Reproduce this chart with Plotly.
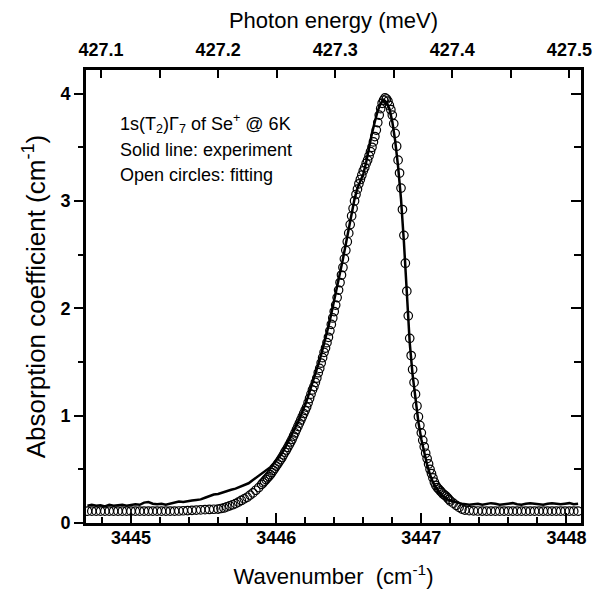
import plotly.graph_objects as go

# ---------------- data ----------------
# fitted curve (open circles)
wn_fit = [
    3444.70, 3444.73, 3444.76, 3444.79, 3444.82, 3444.85, 3444.88, 3444.91, 3444.94, 3444.97,
    3445.00, 3445.03, 3445.06, 3445.09, 3445.12, 3445.15, 3445.18, 3445.21, 3445.24, 3445.27,
    3445.30, 3445.33, 3445.36, 3445.39, 3445.42, 3445.45, 3445.48, 3445.51, 3445.54, 3445.57,
    3445.60, 3445.62, 3445.64, 3445.66, 3445.68, 3445.70, 3445.72, 3445.74, 3445.76, 3445.78,
    3445.80, 3445.82, 3445.84, 3445.86, 3445.88, 3445.90,
    3445.91, 3445.92, 3445.93, 3445.94, 3445.95, 3445.96, 3445.97, 3445.98, 3445.99,
    3446.00, 3446.01, 3446.02, 3446.03, 3446.04, 3446.05, 3446.06, 3446.07, 3446.08, 3446.09,
    3446.10, 3446.11, 3446.12, 3446.13, 3446.14, 3446.15, 3446.16, 3446.17, 3446.18, 3446.19,
    3446.20, 3446.21, 3446.22, 3446.23, 3446.24, 3446.25, 3446.26, 3446.27, 3446.28, 3446.29,
    3446.30, 3446.31, 3446.32, 3446.33, 3446.34, 3446.35, 3446.36, 3446.37, 3446.38, 3446.39,
    3446.40, 3446.41, 3446.42, 3446.43, 3446.44, 3446.45, 3446.46, 3446.47, 3446.48, 3446.49,
    3446.50, 3446.51, 3446.52, 3446.53, 3446.54, 3446.55, 3446.56, 3446.57, 3446.58, 3446.59,
    3446.60, 3446.61, 3446.62, 3446.63, 3446.64, 3446.65, 3446.66, 3446.67, 3446.68, 3446.69,
    3446.70, 3446.71, 3446.72, 3446.73, 3446.74, 3446.75, 3446.76, 3446.77, 3446.78, 3446.79,
    3446.80, 3446.81, 3446.82, 3446.83, 3446.84, 3446.85, 3446.86, 3446.87, 3446.88, 3446.89,
    3446.90, 3446.91, 3446.92, 3446.93, 3446.94, 3446.95, 3446.96, 3446.97, 3446.98, 3446.99,
    3447.00, 3447.01, 3447.02, 3447.03, 3447.04, 3447.05, 3447.06, 3447.07, 3447.08, 3447.09,
    3447.10, 3447.11, 3447.12, 3447.13, 3447.14, 3447.15, 3447.16, 3447.17, 3447.18, 3447.19,
    3447.20, 3447.22, 3447.24, 3447.26, 3447.28, 3447.30,
    3447.33, 3447.36, 3447.39, 3447.42, 3447.45, 3447.48, 3447.51, 3447.54, 3447.57, 3447.60,
    3447.63, 3447.66, 3447.69, 3447.72, 3447.75, 3447.78, 3447.81, 3447.84, 3447.87, 3447.90,
    3447.93, 3447.96, 3447.99, 3448.02, 3448.05, 3448.08,
]
abs_fit = [
    0.11, 0.11, 0.11, 0.11, 0.11, 0.11, 0.11, 0.11, 0.11, 0.11,
    0.11, 0.11, 0.11, 0.11, 0.11, 0.11, 0.11, 0.11, 0.11, 0.11,
    0.11, 0.112, 0.114, 0.116, 0.118, 0.12, 0.122, 0.124, 0.126, 0.128,
    0.13, 0.135, 0.14, 0.15, 0.16, 0.17, 0.18, 0.195, 0.21, 0.225,
    0.24, 0.26, 0.28, 0.305, 0.33, 0.36,
    0.375, 0.39, 0.405, 0.42, 0.435, 0.45, 0.47, 0.49, 0.51,
    0.53, 0.55, 0.57, 0.59, 0.61, 0.635, 0.66, 0.68, 0.705, 0.73,
    0.755, 0.78, 0.81, 0.84, 0.87, 0.90, 0.93, 0.96, 0.99, 1.02,
    1.05, 1.08, 1.12, 1.16, 1.20, 1.24, 1.27, 1.31, 1.35, 1.40,
    1.44, 1.49, 1.54, 1.59, 1.63, 1.68, 1.73, 1.79, 1.85, 1.91,
    1.97, 2.03, 2.10, 2.17, 2.24, 2.31, 2.38, 2.46, 2.54, 2.62,
    2.70, 2.78, 2.86, 2.93, 3.00, 3.06, 3.11, 3.16, 3.20, 3.24,
    3.28, 3.31, 3.35, 3.38, 3.42, 3.46, 3.50, 3.55, 3.60, 3.66,
    3.73, 3.80, 3.86, 3.91, 3.94, 3.96, 3.95, 3.93, 3.89, 3.85,
    3.80, 3.72, 3.63, 3.51, 3.38, 3.26, 3.12, 2.92, 2.68, 2.42,
    2.16, 1.93, 1.72, 1.56, 1.43, 1.31, 1.20, 1.09, 0.99, 0.91,
    0.84, 0.77, 0.71, 0.65, 0.60, 0.55, 0.50, 0.46, 0.42, 0.38,
    0.35, 0.33, 0.315, 0.30, 0.285, 0.27, 0.26, 0.25, 0.235, 0.22,
    0.205, 0.185, 0.165, 0.145, 0.13, 0.12,
    0.115, 0.113, 0.112, 0.111, 0.11, 0.11, 0.11, 0.11, 0.11, 0.11,
    0.11, 0.11, 0.11, 0.11, 0.11, 0.11, 0.11, 0.11, 0.11, 0.11,
    0.11, 0.11, 0.11, 0.11, 0.11, 0.11,
]

# experimental spectrum (solid line)
wn_exp = [
    3444.70, 3444.73, 3444.76, 3444.79, 3444.82, 3444.85, 3444.88, 3444.91, 3444.94, 3444.97,
    3445.00, 3445.03, 3445.06, 3445.09, 3445.12, 3445.15, 3445.18, 3445.21, 3445.24, 3445.27,
    3445.30, 3445.33, 3445.36, 3445.39, 3445.42, 3445.45, 3445.48, 3445.51, 3445.54, 3445.57,
    3445.60, 3445.63, 3445.66, 3445.69, 3445.72, 3445.75, 3445.78, 3445.81, 3445.84, 3445.87,
    3445.90,
    3445.92, 3445.94, 3445.96, 3445.98,
    3446.00, 3446.02, 3446.04, 3446.06, 3446.08, 3446.10, 3446.12, 3446.14, 3446.16, 3446.18,
    3446.20, 3446.22, 3446.24, 3446.26, 3446.28, 3446.30, 3446.32, 3446.34, 3446.36, 3446.38,
    3446.40, 3446.42, 3446.44, 3446.46, 3446.48, 3446.50, 3446.52, 3446.54, 3446.56, 3446.58,
    3446.60, 3446.62, 3446.64, 3446.66, 3446.68, 3446.70, 3446.72, 3446.74, 3446.76, 3446.78,
    3446.80, 3446.82, 3446.84, 3446.86, 3446.88, 3446.90, 3446.92, 3446.94, 3446.96, 3446.98,
    3447.00, 3447.02, 3447.04, 3447.06, 3447.08, 3447.10, 3447.12, 3447.14, 3447.16, 3447.18,
    3447.20, 3447.22, 3447.24, 3447.26, 3447.28, 3447.30,
    3447.33, 3447.36, 3447.39, 3447.42, 3447.45, 3447.48, 3447.51, 3447.54, 3447.57, 3447.60,
    3447.63, 3447.66, 3447.69, 3447.72, 3447.75, 3447.78, 3447.81, 3447.84, 3447.87, 3447.90,
    3447.93, 3447.96, 3447.99, 3448.02, 3448.05, 3448.08,
]
abs_exp = [
    0.16, 0.17, 0.16, 0.165, 0.155, 0.17, 0.16, 0.165, 0.17, 0.16,
    0.165, 0.175, 0.17, 0.19, 0.195, 0.18, 0.175, 0.18, 0.17, 0.18,
    0.19, 0.20, 0.195, 0.205, 0.21, 0.215, 0.22, 0.235, 0.25, 0.265,
    0.27, 0.285, 0.30, 0.31, 0.32, 0.335, 0.35, 0.37, 0.40, 0.43,
    0.465,
    0.48, 0.50, 0.52, 0.55,
    0.58, 0.61, 0.65, 0.70, 0.75, 0.80, 0.85, 0.91, 0.97, 1.03,
    1.10, 1.18, 1.26, 1.34, 1.43, 1.52, 1.62, 1.72, 1.83, 1.95,
    2.07, 2.19, 2.32, 2.46, 2.60, 2.74, 2.88, 3.02, 3.12, 3.18,
    3.25, 3.36, 3.50, 3.63, 3.74, 3.84, 3.91, 3.94, 3.92, 3.86,
    3.74, 3.56, 3.32, 3.02, 2.62, 2.12, 1.68, 1.38, 1.14, 0.94,
    0.78, 0.65, 0.54, 0.45, 0.38, 0.33, 0.29, 0.26, 0.24, 0.22,
    0.21, 0.20, 0.19, 0.185, 0.18, 0.175,
    0.17, 0.175, 0.18, 0.17, 0.175, 0.185, 0.18, 0.17, 0.175, 0.18,
    0.185, 0.175, 0.17, 0.18, 0.185, 0.18, 0.175, 0.17, 0.18, 0.185,
    0.18, 0.175, 0.18, 0.185, 0.175, 0.18,
]

wn_range = [3444.69, 3448.10]
abs_range = [0.0, 4.22]
wn_ticks = [3445, 3446, 3447, 3448]
abs_ticks = [0, 1, 2, 3, 4]
mev_ticks = [427.1, 427.2, 427.3, 427.4, 427.5]
MEV_PER_CM = 0.1239842  # 1 cm^-1 in meV

FONT = "Liberation Sans, Arial, sans-serif"

fig = go.Figure()
fig.add_trace(go.Scatter(
    x=wn_exp, y=abs_exp, mode="lines",
    line=dict(color="black", width=2.5),
    showlegend=False, hoverinfo="skip",
))
fig.add_trace(go.Scatter(
    x=wn_fit, y=abs_fit, mode="markers",
    marker=dict(symbol="circle-open", size=8.5, color="black", line=dict(width=1.2, color="black")),
    showlegend=False, hoverinfo="skip",
))
# invisible helper trace so that the top (meV) and right axes are drawn
fig.add_trace(go.Scatter(
    x=mev_ticks, y=abs_ticks, xaxis="x2", yaxis="y2", mode="markers",
    marker=dict(opacity=0), showlegend=False, hoverinfo="skip",
))

tickfont = dict(family=FONT, size=18, color="black", weight="bold")
titlefont = dict(family=FONT, size=22, color="black")

# the page body adds an 8px offset; compensate so the figure sits at the window origin
fig.update_layout(
    width=597, height=587,
    margin=dict(l=78, r=24, t=62, b=72, autoexpand=False),
    paper_bgcolor="white", plot_bgcolor="white",
    font=dict(family=FONT, color="black"),
    xaxis=dict(
        range=wn_range, tickvals=wn_ticks, ticktext=[str(v) for v in wn_ticks],
        ticks="inside", ticklen=10, tickwidth=2, tickcolor="black",
        minor=dict(dtick=0.2, tick0=3445, ticks="inside", ticklen=6, tickwidth=2, tickcolor="black"),
        showline=True, linewidth=3, linecolor="black", mirror=False,
        showgrid=False, zeroline=False, tickfont=tickfont, automargin=False,
        ticklabelstandoff=-4,
        title=dict(text="Wavenumber  (cm<sup>-1</sup>)", font=titlefont, standoff=23),
    ),
    xaxis2=dict(
        overlaying="x", side="top", anchor="y",
        range=[wn_range[0] * MEV_PER_CM, wn_range[1] * MEV_PER_CM],
        tickvals=mev_ticks, ticktext=["%.1f" % v for v in mev_ticks],
        ticks="inside", ticklen=8, tickwidth=2, tickcolor="black",
        minor=dict(dtick=0.05, tick0=427.0, ticks="inside", ticklen=8, tickwidth=2, tickcolor="black"),
        showline=True, linewidth=3, linecolor="black",
        showgrid=False, zeroline=False, tickfont=tickfont, ticklabelstandoff=4,
        automargin=False,
        title=dict(text="Photon energy (meV)", font=titlefont, standoff=21),
    ),
    yaxis=dict(
        range=abs_range, tickvals=abs_ticks, ticktext=[str(v) for v in abs_ticks],
        ticks="outside", ticklen=9, tickwidth=2, tickcolor="black",
        minor=dict(dtick=0.5, tick0=0, ticks="outside", ticklen=5, tickwidth=2, tickcolor="black"),
        showline=True, linewidth=3, linecolor="black", mirror=False,
        showgrid=False, zeroline=False, tickfont=tickfont, automargin=False,
        title=dict(text="Absorption coefficient (cm<sup>-1</sup>)",
                   font=dict(family=FONT, size=26, color="black"), standoff=8),
    ),
    yaxis2=dict(
        overlaying="y", side="right", anchor="x",
        range=abs_range, tickvals=abs_ticks, showticklabels=False,
        ticks="inside", ticklen=10, tickwidth=2, tickcolor="black",
        minor=dict(dtick=0.5, tick0=0, ticks="inside", ticklen=7, tickwidth=2, tickcolor="black"),
        showline=True, linewidth=3, linecolor="black",
        showgrid=False, zeroline=False, automargin=False,
    ),
)

notes = [
    ("1s(T<sub>2</sub>)Γ<sub>7</sub> of Se<sup>+</sup> @ 6K", 0.881),
    ("Solid line: experiment", 0.824),
    ("Open circles: fitting", 0.769),
]
for txt, yp in notes:
    fig.add_annotation(
        x=0.065, y=yp, xref="paper", yref="paper", text=txt, showarrow=False,
        xanchor="left", yanchor="middle", font=dict(family=FONT, size=18, color="black"),
    )

fig.write_html("out.html")
